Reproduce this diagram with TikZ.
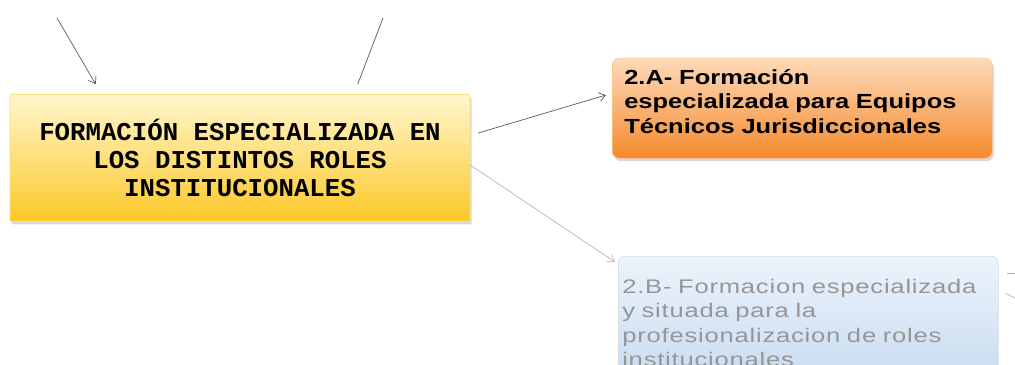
\documentclass[tikz,border=0pt]{standalone}
\usepackage{fontspec}
\setmainfont{Liberation Sans}
\newfontfamily\rolemono{Liberation Mono}
\definecolor{mainTop}{RGB}{255, 246, 205}
\definecolor{mainBot}{RGB}{252, 200, 40}
\definecolor{orgTop}{RGB}{253, 218, 185}
\definecolor{orgBot}{RGB}{245, 138, 45}
\definecolor{lakeTop}{RGB}{236, 243, 251}
\definecolor{lakeBot}{RGB}{190, 214, 238}
\definecolor{linkgray}{RGB}{90, 90, 90}
\definecolor{fadegray}{RGB}{150, 150, 150}
\usetikzlibrary{arrows.meta, positioning, calc, shadows}
\tikzset{
  link/.style={draw=linkgray, line width=0.5pt, -{Straight Barb[length=1.6mm, width=2.2mm]}},
  fadelink/.style={link, draw=fadegray!70},
  soft shadow/.style={drop shadow={opacity=0.3, shadow xshift=0.04cm, shadow yshift=-0.07cm}}
}

\begin{document}
\begin{tikzpicture}
  \path[use as bounding box, clip] (0, 0) rectangle (25.375, -9.125);

  % Main topic
  \node[draw=mainBot!60, top color=mainTop, bottom color=mainBot, rounded corners=1pt, soft shadow, minimum width=11.5cm, minimum height=3.175cm, align=center, font=\rolemono\bfseries\fontsize{18.3}{20}\selectfont] (main) at (6.0, -3.95) {
    FORMACIÓN ESPECIALIZADA EN\\LOS DISTINTOS ROLES\\INSTITUCIONALES
  };

  % 2.A
  \node[draw=orgBot!50, top color=orgTop, bottom color=orgBot, rounded corners=5pt, soft shadow, anchor=north west, minimum width=9.5cm, text width=8.9cm, inner xsep=0.3cm, inner ysep=0pt, text height=0.65cm, text depth=1.85cm, align=left, font=\bfseries\fontsize{14.5}{17.4}\selectfont] (tecnicos) at (15.3, -1.45) {
    \addfontfeature{FakeStretch=1.25}2.A- Formación\\especializada para Equipos\\Técnicos Jurisdiccionales
  };

  % 2.B (cut off at the bottom)
  \node[draw=gray!30, top color=lakeTop, bottom color=lakeBot, rounded corners=5pt, anchor=north west, minimum width=9.475cm, text width=9.3cm, inner xsep=0.1cm, inner ysep=0pt, text height=0.925cm, text depth=3cm, align=left, text=fadegray, font=\fontsize{14}{17.4}\selectfont] (roles) at (15.45, -6.4) {
    \addfontfeature{FakeStretch=1.3, LetterSpace=4}2.B- Formacion especializada\\y situada para la\\profesionalizacion de roles\\institucionales
  };

  % ends outside the picture
  \coordinate (upLeft) at (1.425, -0.45);
  \coordinate (upRight) at (9.575, -0.45);
  \coordinate (outA) at (25.45, -6.825);
  \coordinate (outB) at (25.45, -7.5);

  \draw[link] (upLeft) -- ([shift={(2.15, 0.25)}]main.north west);
  \draw[link, -] ([shift={(8.7, 0.25)}]main.north west) -- (upRight);
  \draw[link] ([shift={(0.2, 0.625)}]main.east) -- ([shift={(-0.15, -0.925)}]tecnicos.north west);
  \draw[fadelink] ([shift={(0, -0.175)}]main.east) -- ([shift={(-0.075, -0.15)}]roles.north west);
  \draw[fadelink, -] ([shift={(0.2, -0.425)}]roles.north east) -- (outA);
  \draw[fadelink, -] ([shift={(0.175, -0.925)}]roles.north east) -- (outB);
\end{tikzpicture}
\end{document}
